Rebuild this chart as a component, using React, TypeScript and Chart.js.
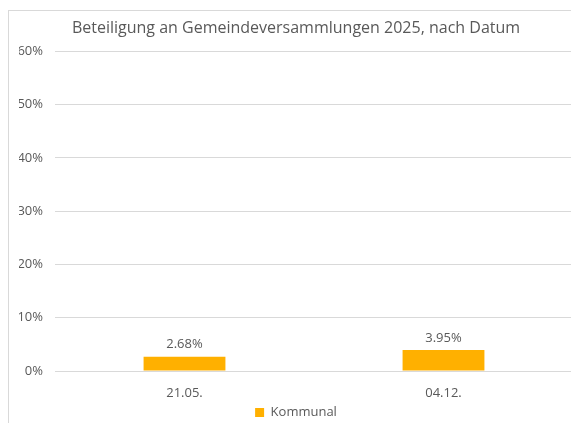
import React, { useEffect, useRef } from "react";
import { Chart, registerables } from "chart.js";

Chart.register(...registerables);

const categories = ["21.05.", "04.12."];
const kommunal = [2.68, 3.95];
const seriesName = "Kommunal";
const titleText = "Beteiligung an Gemeindeversammlungen 2025, nach Datum";
const yMin = 0;
const yMax = 60;
const yStep = 10;

const FONT = "'Open Sans', 'DejaVu Sans', sans-serif";
const GRAY = "#595959";
const ORANGE = "#FFB000";

const valueLabels = {
  id: "valueLabels",
  afterDatasetsDraw(chart: any) {
    const ctx = chart.ctx;
    ctx.save();
    ctx.font = `13px ${FONT}`;
    ctx.fillStyle = GRAY;
    ctx.textAlign = "center";
    ctx.textBaseline = "middle";
    chart.data.datasets.forEach((ds: any, di: number) => {
      const meta = chart.getDatasetMeta(di);
      meta.data.forEach((bar: any, i: number) => {
        const v = ds.data[i] as number;
        ctx.fillText(v.toFixed(2) + "%", bar.x, bar.y - 12);
      });
    });
    ctx.restore();
  },
};

export default function App() {
  const ref = useRef<HTMLCanvasElement | null>(null);
  useEffect(() => {
    if (!ref.current) return;
    const chart = new Chart(ref.current, {
      type: "bar",
      data: {
        labels: categories,
        datasets: [
          {
            label: seriesName,
            data: kommunal,
            backgroundColor: ORANGE,
            barPercentage: 0.316,
            categoryPercentage: 1,
          },
        ],
      },
      options: {
        animation: false,
        responsive: false,
        maintainAspectRatio: false,
        layout: { padding: { left: 10, right: 6, top: 8, bottom: -6 } },
        plugins: {
          title: {
            display: true,
            text: titleText,
            color: GRAY,
            font: { family: FONT, size: 16, weight: "normal" },
            padding: { top: 0, bottom: 13 },
          },
          legend: {
            position: "bottom",
            labels: {
              color: GRAY,
              font: { family: FONT, size: 13 },
              boxWidth: 9,
              boxHeight: 9,
              padding: 0,
            },
          },
          tooltip: { enabled: false },
        },
        scales: {
          x: {
            grid: { display: false, drawTicks: false },
            border: { display: false },
            ticks: { color: GRAY, font: { family: FONT, size: 13 }, padding: 14 },
            afterFit: (s: any) => {
              s.height = 35;
            },
          },
          y: {
            min: yMin,
            max: yMax,
            grid: { color: "#d9d9d9", drawTicks: false },
            border: { display: false },
            ticks: {
              stepSize: yStep,
              color: GRAY,
              font: { family: FONT, size: 13 },
              padding: 12,
              callback: (v: any) => v + "%",
            },
            afterFit: (s: any) => {
              s.width = 36;
            },
          },
        },
      },
      plugins: [valueLabels],
    });
    return () => chart.destroy();
  }, []);

  return (
    <div
      style={{
        marginTop: 2,
        width: 570,
        height: 412,
        borderTop: "1px solid #d9d9d9",
        borderLeft: "1px solid #d9d9d9",
        background: "#fff",
        overflow: "hidden",
      }}
    >
      <canvas ref={ref} width={570} height={412} style={{ display: "block" }} />
    </div>
  );
}
